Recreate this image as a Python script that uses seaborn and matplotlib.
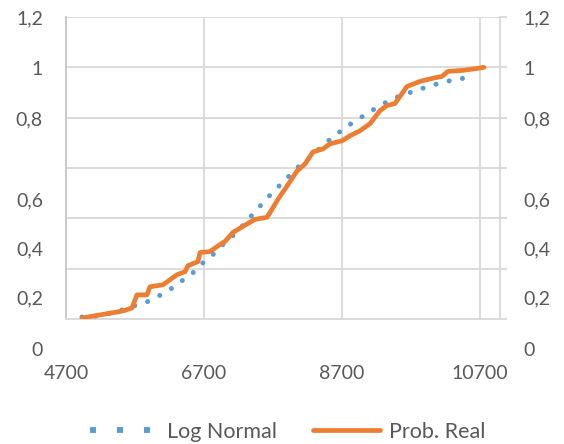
import matplotlib
matplotlib.use("Agg")
import matplotlib.pyplot as plt
from matplotlib.lines import Line2D
import seaborn as sns
import pandas as pd

sns.set_style("white")
plt.rcParams['font.family'] = ['Lato', 'DejaVu Sans']

# ---- data ----
ln_x = [4932, 5149, 5309, 5512, 5686, 5874, 6048, 6222, 6381, 6541, 6671, 6816,
        6961, 7106, 7236, 7367, 7497, 7628, 7758, 7903, 8048, 8193, 8338, 8483,
        8628, 8787, 8946, 9106, 9280, 9439, 9642, 9816, 10004, 10207, 10381, 10584]
ln_y = [0.008, 0.012, 0.020, 0.036, 0.052, 0.068, 0.092, 0.120, 0.152, 0.184, 0.220, 0.252,
        0.292, 0.328, 0.364, 0.404, 0.444, 0.484, 0.520, 0.560, 0.600, 0.632, 0.668, 0.704,
        0.736, 0.768, 0.796, 0.824, 0.852, 0.876, 0.896, 0.912, 0.928, 0.944, 0.952, 0.964]

pr_x = [4932, 5526, 5657, 5729, 5874, 5917, 6106, 6309, 6425, 6468, 6613, 6642,
        6787, 6932, 7004, 7120, 7265, 7439, 7613, 7686, 7773, 7903, 8048, 8164,
        8280, 8425, 8526, 8700, 8816, 8961, 9106, 9251, 9352, 9468, 9642, 9830,
        10004, 10149, 10236, 10454, 10671, 10758]
pr_y = [0.004, 0.032, 0.044, 0.096, 0.096, 0.128, 0.136, 0.176, 0.188, 0.212, 0.228, 0.264,
        0.268, 0.296, 0.308, 0.344, 0.368, 0.396, 0.404, 0.436, 0.476, 0.528, 0.588, 0.616,
        0.664, 0.676, 0.696, 0.708, 0.728, 0.748, 0.776, 0.828, 0.848, 0.856, 0.924, 0.944,
        0.956, 0.964, 0.984, 0.988, 0.996, 1.0]

x_ticks = [4700, 6700, 8700, 10700]
x_tick_labels = ["4700", "6700", "8700", "10700"]
y_grid = [0, 0.2, 0.4, 0.6, 0.8, 1.0, 1.2]
y_tick_labels = ["0", "0,2", "0,4", "0,6", "0,8", "1", "1,2"]
# label baselines as they appear (shifted) in the reference
y_label_pos = [-0.147, 0.060, 0.254, 0.449, 0.771, 0.969, 1.171]

series_names = ["Log Normal", "Prob. Real"]

BLUE = "#5B9BD5"
ORANGE = "#ED7D31"
GRID = "#D9D9D9"
TXT = "#595959"

df_ln = pd.DataFrame({"x": ln_x, "y": ln_y})
df_pr = pd.DataFrame({"x": pr_x, "y": pr_y})

fig = plt.figure(figsize=(5.64, 4.44), dpi=100)
ax = fig.add_axes([66/564, (444-319)/444, (500-66)/564, (319-17)/444])

sns.lineplot(data=df_ln, x="x", y="y", ax=ax, color=BLUE, lw=3.6,
             linestyle=(0, (0.01, 2.7)), dash_capstyle="round", zorder=3)
sns.lineplot(data=df_pr, x="x", y="y", ax=ax, color=ORANGE, lw=3.4,
             solid_capstyle="round", solid_joinstyle="round", zorder=4)

ax.set_xlim(4700, 10990)
ax.set_ylim(0, 1.2)
ax.set_xlabel("")
ax.set_ylabel("")

ax.set_xticks(x_ticks)
ax.set_xticklabels(x_tick_labels, fontsize=14, color=TXT)
ax.set_yticks(y_grid)
ax.set_yticklabels([])

ax.grid(True, color=GRID, lw=1.3)
ax.set_axisbelow(True)
ax.tick_params(axis="x", length=0, pad=33)
ax.tick_params(axis="y", left=False, right=True, length=5, width=1.3,
               color=GRID, direction="out", labelleft=False, labelright=False)

for side in ["left", "bottom", "right"]:
    ax.spines[side].set_visible(True)
    ax.spines[side].set_color(GRID)
    ax.spines[side].set_linewidth(1.3)
ax.spines["top"].set_visible(False)
ax.spines["left"].set_color("#C8C8C8")

tr = ax.get_yaxis_transform()
for lab, yp in zip(y_tick_labels, y_label_pos):
    ax.text(-0.053, yp, lab, transform=tr, ha="right", va="baseline",
            fontsize=14, color=TXT, clip_on=False)
    ax.text(1.053, yp, lab, transform=tr, ha="left", va="baseline",
            fontsize=14, color=TXT, clip_on=False)

handles = [
    Line2D([], [], color=BLUE, lw=4.2, dashes=(1.03, 3.6), dash_capstyle="butt"),
    Line2D([], [], color=ORANGE, lw=3.4),
]
fig.legend(handles, series_names, loc="center", bbox_to_anchor=(288/564, 1-432/444),
           ncol=2, frameon=False, fontsize=15.5, handlelength=3.1,
           handletextpad=0.45, columnspacing=1.7, labelcolor=TXT)

fig.savefig("out.png", dpi=100)
